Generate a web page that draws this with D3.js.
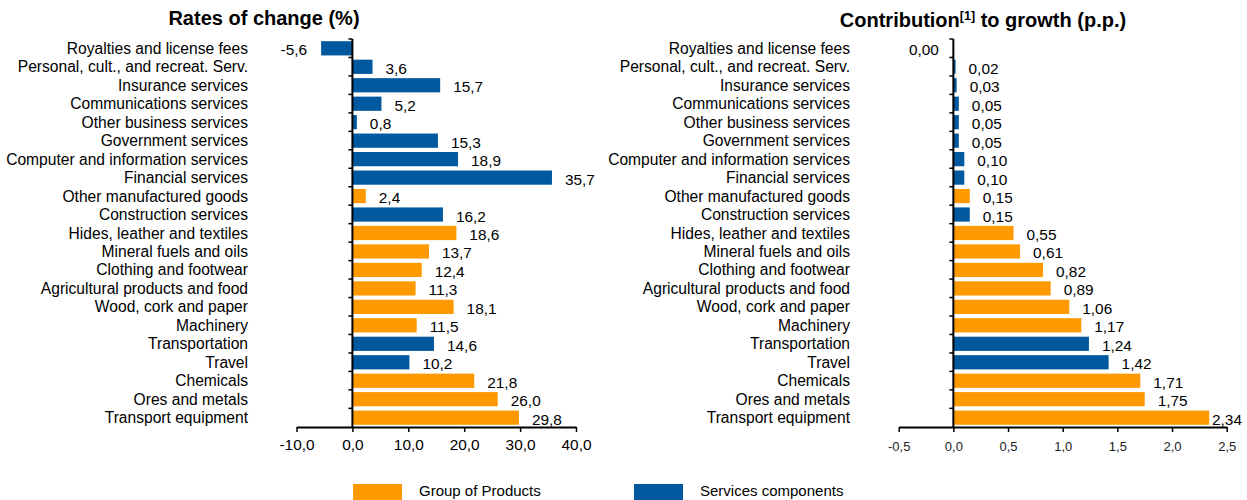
<!DOCTYPE html>
<html>
<head>
<meta charset="utf-8">
<script src="https://cdn.jsdelivr.net/npm/d3@7"></script>
<style>
  html, body { margin: 0; padding: 0; background: #fff; }
  svg { display: block; font-family: "Liberation Sans", Arial, sans-serif; }
</style>
</head>
<body>
<svg id="chart" width="1247" height="500"></svg>
<script>
// ---- data ----
const categories = [
  "Royalties and license fees",
  "Personal, cult., and recreat. Serv.",
  "Insurance services",
  "Communications services",
  "Other business services",
  "Government services",
  "Computer and information services",
  "Financial services",
  "Other manufactured goods",
  "Construction services",
  "Hides, leather and textiles",
  "Mineral fuels and oils",
  "Clothing and footwear",
  "Agricultural products and food",
  "Wood, cork and paper",
  "Machinery",
  "Transportation",
  "Travel",
  "Chemicals",
  "Ores and metals",
  "Transport equipment"
];
// "S" = Services components, "P" = Group of Products
const groups = ["S","S","S","S","S","S","S","S","P","S","P","P","P","P","P","P","S","S","P","P","P"];
const ratesOfChange = [-5.6, 3.6, 15.7, 5.2, 0.8, 15.3, 18.9, 35.7, 2.4, 16.2, 18.6, 13.7, 12.4, 11.3, 18.1, 11.5, 14.6, 10.2, 21.8, 26.0, 29.8];
const contributions = [-0.004, 0.02, 0.03, 0.05, 0.05, 0.05, 0.10, 0.10, 0.15, 0.15, 0.55, 0.61, 0.82, 0.89, 1.06, 1.17, 1.24, 1.42, 1.71, 1.75, 2.34];
const ratesTicks = [-10, 0, 10, 20, 30, 40];
const contribTicks = [-0.5, 0, 0.5, 1.0, 1.5, 2.0, 2.5];
const legendLabels = { P: "Group of Products", S: "Services components" };

const colors = { P: "#FF9900", S: "#00599F" };
const svg = d3.select("#chart");

function fmt(v, d) {
  let s = Math.abs(v).toFixed(d);
  if (v < 0 && +s !== 0) s = "-" + s;
  return s.replace(".", ",");
}

function drawPanel(opt) {
  const g = svg.append("g");
  const x = d3.scaleLinear().domain(opt.domain).range(opt.xRange);
  const y = d3.scaleBand().domain(categories).range([39, 427]).paddingInner(0.23).paddingOuter(0.12);
  const step = y.step();
  const x0 = x(0);

  // title
  const t = g.append("text")
    .attr("x", opt.titleX).attr("y", opt.titleY)
    .attr("text-anchor", "middle")
    .attr("font-size", 20).attr("font-weight", "bold").attr("fill", "#000");
  opt.title.forEach(p => {
    const ts = t.append("tspan").text(p.text);
    if (p.sup) ts.attr("font-size", 12.5).attr("dy", -7);
    else if (p.after) ts.attr("dy", 7);
  });

  // bars
  g.selectAll("rect.bar").data(opt.values).enter().append("rect")
    .attr("class", "bar")
    .attr("x", d => Math.min(x(d), x0))
    .attr("width", d => Math.abs(x(d) - x0))
    .attr("y", (d, i) => y(categories[i]))
    .attr("height", y.bandwidth())
    .attr("fill", (d, i) => colors[groups[i]]);

  // value labels
  g.selectAll("text.val").data(opt.values).enter().append("text")
    .attr("class", "val")
    .attr("font-size", 15.4).attr("fill", "#000")
    .attr("y", (d, i) => y(categories[i]) + y.bandwidth() / 2 + 7)
    .attr("text-anchor", d => d < 0 ? "end" : "start")
    .text(d => fmt(d, opt.decimals))
    .each(function(d) {
      const w = this.getComputedTextLength();
      let xx = d < 0 ? x(d) - 14 : x(d) + 13;
      if (d >= 0 && xx + w > opt.labelMax) xx = opt.labelMax - w;
      d3.select(this).attr("x", xx);
    });

  // category axis (vertical at zero)
  g.append("line").attr("x1", x0).attr("x2", x0).attr("y1", 39).attr("y2", 427)
    .attr("stroke", "#000").attr("stroke-width", 2);
  const bounds = d3.range(categories.length).map(i => 39 + i * step);
  g.selectAll("line.ctick").data(bounds).enter().append("line")
    .attr("x1", x0 - 4).attr("x2", x0).attr("y1", d => d).attr("y2", d => d)
    .attr("stroke", "#000").attr("stroke-width", 1.5);

  // category labels
  g.selectAll("text.cat").data(categories).enter().append("text")
    .attr("class", "cat")
    .attr("x", opt.catX)
    .attr("y", d => y(d) + y.bandwidth() / 2 + 5.5)
    .attr("text-anchor", "end").attr("font-size", 15.6).attr("fill", "#000")
    .text(d => d);

  // value axis
  const ax = g.append("g").attr("transform", "translate(0,427)")
    .call(d3.axisBottom(x).tickValues(opt.ticks).tickSize(5).tickSizeOuter(0)
      .tickFormat(d => fmt(d, 1)));
  ax.select(".domain").attr("stroke", "#000").attr("stroke-width", 2);
  ax.selectAll(".tick line").attr("stroke", "#000").attr("stroke-width", 1.5);
  ax.selectAll(".tick text").attr("font-size", opt.tickFont).attr("fill", opt.tickColor)
    .attr("font-family", "Liberation Sans, Arial, sans-serif").attr("dy", 0).attr("y", opt.tickY);
}

drawPanel({
  values: ratesOfChange, domain: [-10, 40], xRange: [296.5, 576], ticks: ratesTicks,
  decimals: 1, catX: 248, labelMax: 620,
  title: [{ text: "Rates of change (%)" }], titleX: 264, titleY: 25,
  tickFont: 15.4, tickColor: "#000", tickY: 23
});
drawPanel({
  values: contributions, domain: [-0.5, 2.5], xRange: [898.7, 1226.7], ticks: contribTicks,
  decimals: 2, catX: 850, labelMax: 1242,
  title: [{ text: "Contribution" }, { text: "[1]", sup: true }, { text: " to growth (p.p.)", after: true }],
  titleX: 983, titleY: 27,
  tickFont: 13, tickColor: "#222", tickY: 24
});

// legend
const legendKeys = ["P", "S"];
const legendX = [353, 634];
const lg = svg.append("g");
lg.selectAll("rect").data(legendKeys).enter().append("rect")
  .attr("x", (d, i) => legendX[i]).attr("y", 484).attr("width", 49).attr("height", 16)
  .attr("fill", d => colors[d]);
lg.selectAll("text").data(legendKeys).enter().append("text")
  .attr("x", (d, i) => legendX[i] + 66).attr("y", 496)
  .attr("font-size", 15).attr("fill", "#000")
  .text(d => legendLabels[d]);
</script>
</body>
</html>
